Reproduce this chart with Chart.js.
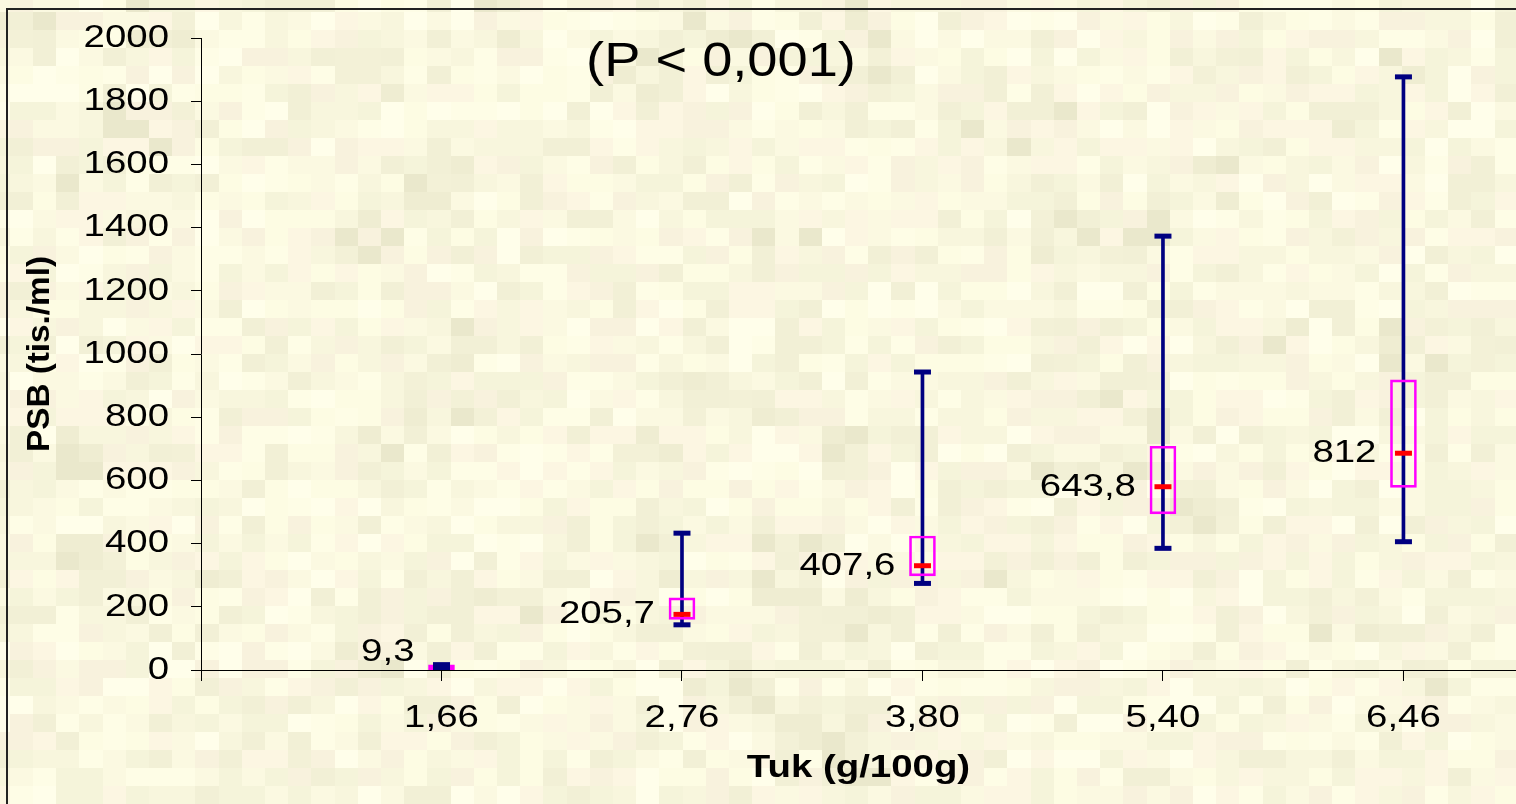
<!DOCTYPE html>
<html>
<head>
<meta charset="utf-8">
<title>PSB vs Tuk</title>
<script src="https://cdn.jsdelivr.net/npm/chart.js@4.4.1/dist/chart.umd.min.js"></script>
<style>
  html, body { margin: 0; padding: 0; background: #f8f6de; overflow: hidden; }
  #wrap { width: 1516px; height: 804px; position: relative; }
  canvas { display: block; }
</style>
</head>
<body>
<div id="wrap"><canvas id="c" width="1516" height="804"></canvas></div>
<script>
// Fat content groups (g/100g) and PSB distribution per group (tis./ml)
const categories   = ['1,66', '2,76', '3,80', '5,40', '6,46'];
const minValues    = [7, 143, 274, 385, 406];
const q1Values     = [1, 160, 298, 494, 578];
const medianValues = [6, 176, 330, 580, 686];
const q3Values     = [16, 228, 424, 708, 918];
const maxValues    = [17, 433, 943, 1373, 1877];
const meanValues   = [9.3, 205.7, 407.6, 643.8, 812];
const yTickStep    = 200;
const pValueText   = '(P < 0,001)';

const FONT = "'Liberation Sans', Arial, sans-serif";
const NAVY = '#000080';
const MAGENTA = '#ff00ff';
const RED = '#ff0000';

const xs = categories.map((_, i) => i + 1);
const fmtComma = v => String(v).replace('.', ',');

// Wide text rendering: glyphs are stretched horizontally around their anchor
const canvas = document.getElementById('c');
const context = canvas.getContext('2d');
const proto = CanvasRenderingContext2D.prototype;
function stretchFor(ctx) {
  const t = ctx.getTransform();
  if (Math.abs(t.b) > 0.01) return 1.04;      // rotated axis title
  if (/48px/.test(ctx.font)) return 1.13;     // headline
  return 1.2;                                 // ticks, labels, x title
}
context.fillText = function (text, x, y, maxWidth) {
  const s = stretchFor(this);
  this.save();
  this.translate(x, y);
  this.scale(s, 1);
  if (maxWidth !== undefined) proto.fillText.call(this, text, 0, 0, maxWidth / s);
  else proto.fillText.call(this, text, 0, 0);
  this.restore();
};
context.measureText = function (text) {
  const m = proto.measureText.call(this, text);
  const s = stretchFor(this);
  return {
    width: m.width * s,
    actualBoundingBoxAscent: m.actualBoundingBoxAscent,
    actualBoundingBoxDescent: m.actualBoundingBoxDescent,
    actualBoundingBoxLeft: m.actualBoundingBoxLeft * s,
    actualBoundingBoxRight: m.actualBoundingBoxRight * s
  };
};

// deterministic parchment mosaic for the page background
function cellHash(i, j) {
  let n = Math.imul(i, 374761393) + Math.imul(j, 668265263);
  n = Math.imul(n ^ (n >>> 13), 1274126177);
  n = n ^ (n >>> 16);
  return (n >>> 0) / 4294967296;
}
const parchment = ['#fffeea', '#fefde6', '#fdfce3', '#fbf9e1', '#f8f6dd', '#fcf6e2',
                   '#f5f4da', '#f8f2dd', '#f2f0d6', '#efedd2', '#f3f1d7', '#eae8cc'];

const backgroundPlugin = {
  id: 'parchment',
  beforeDraw(chart) {
    const ctx = chart.ctx;
    ctx.save();
    const cw = 23.2, ch = 18, ox = -13, oy = -5.3;
    for (let i = 0; i * cw + ox < chart.width; i++) {
      for (let j = 0; j * ch + oy < chart.height; j++) {
        const coarse = cellHash(Math.floor(i / 3) + 101, Math.floor(j / 3) + 57);
        const fine = cellHash(i, j);
        let k = Math.floor(fine * 9);
        if (coarse > 0.78) k += 3;
        k = Math.min(k, parchment.length - 1);
        ctx.fillStyle = parchment[k];
        ctx.fillRect(Math.floor(ox + i * cw), Math.floor(oy + j * ch), Math.ceil(cw) + 1, Math.ceil(ch) + 1);
      }
    }
    // outer frame
    ctx.strokeStyle = '#222';
    ctx.lineWidth = 2;
    ctx.strokeRect(7, 9, chart.width + 20, chart.height + 20);
    ctx.restore();
  }
};

const annotationPlugin = {
  id: 'annotations',
  afterDatasetsDraw(chart) {
    const ctx = chart.ctx;
    const xScale = chart.scales.x, yScale = chart.scales.y;
    ctx.save();
    ctx.fillStyle = '#000';
    ctx.font = '32px ' + FONT;
    ctx.textAlign = 'right';
    ctx.textBaseline = 'middle';
    const floorY = yScale.getPixelForValue(0) - 18;
    meanValues.forEach((m, i) => {
      const px = xScale.getPixelForValue(xs[i]);
      const py = Math.min(yScale.getPixelForValue(medianValues[i]), floorY);
      ctx.fillText(fmtComma(m), px - 27, py);
    });
    ctx.font = '48px ' + FONT;
    ctx.textAlign = 'center';
    ctx.textBaseline = 'alphabetic';
    ctx.fillText(pValueText, 721, 76);
    ctx.restore();
  }
};

new Chart(canvas, {
  type: 'bar',
  data: {
    datasets: [
      {
        type: 'bar',
        label: 'range',
        data: xs.map((x, i) => ({ x, y: [minValues[i], maxValues[i]] })),
        backgroundColor: NAVY,
        barThickness: 3,
        grouped: false,
        order: 4
      },
      {
        type: 'bar',
        label: 'quartiles',
        data: xs.map((x, i) => ({ x, y: [q1Values[i], q3Values[i]] })),
        backgroundColor: 'rgba(0,0,0,0)',
        borderColor: MAGENTA,
        borderWidth: 2,
        borderSkipped: false,
        barThickness: 26,
        grouped: false,
        order: 3
      },
      {
        type: 'scatter',
        label: 'median',
        data: xs.map((x, i) => ({ x, y: medianValues[i] })),
        pointStyle: 'line',
        radius: 8.5,
        borderWidth: 5,
        borderColor: RED,
        order: 2
      },
      {
        type: 'scatter',
        label: 'min / max',
        data: xs.map((x, i) => ({ x, y: minValues[i] }))
               .concat(xs.map((x, i) => ({ x, y: maxValues[i] }))),
        pointStyle: 'line',
        radius: 8.5,
        borderWidth: 5,
        borderColor: NAVY,
        order: 1
      }
    ]
  },
  options: {
    responsive: false,
    devicePixelRatio: 1,
    animation: false,
    events: [],
    layout: { autoPadding: false, padding: { top: 38, right: 0, bottom: 0, left: 0 } },
    plugins: {
      legend: { display: false },
      tooltip: { enabled: false },
      title: { display: false }
    },
    scales: {
      x: {
        type: 'linear',
        offset: false,
        min: 0,
        max: 5.468,
        afterBuildTicks: s => { s.ticks = [0].concat(xs).map(v => ({ value: v })); },
        afterFit: s => { s.height = 134; s.paddingLeft = 0; s.paddingRight = 0; },
        ticks: {
          autoSkip: false,
          maxRotation: 0,
          padding: 18,
          color: '#000',
          font: { family: FONT, size: 32 },
          callback: v => (v === 0 ? '' : categories[v - 1])
        },
        grid: { display: true, offset: false, drawOnChartArea: false, drawTicks: true, tickLength: 11, color: '#000', lineWidth: 1 },
        border: { display: true, color: '#000', width: 1 },
        title: {
          display: true,
          text: 'Tuk (g/100g)',
          color: '#000',
          font: { family: FONT, size: 32, weight: 'bold' },
          padding: { top: 0, bottom: 17 }
        }
      },
      y: {
        min: 0,
        max: 2000,
        afterFit: s => { s.width = 201; s.paddingTop = 0; s.paddingBottom = 0; },
        ticks: {
          stepSize: yTickStep,
          padding: 22,
          color: '#000',
          font: { family: FONT, size: 32 },
          callback: v => String(v)
        },
        grid: { display: true, drawOnChartArea: false, drawTicks: true, tickLength: 10, color: '#000', lineWidth: 1 },
        border: { display: true, color: '#000', width: 1 },
        title: {
          display: true,
          text: 'PSB (tis./ml)',
          color: '#000',
          font: { family: FONT, size: 32, weight: 'bold' },
          padding: { top: 21, bottom: 0 }
        }
      }
    }
  },
  plugins: [backgroundPlugin, annotationPlugin]
});
</script>
</body>
</html>
